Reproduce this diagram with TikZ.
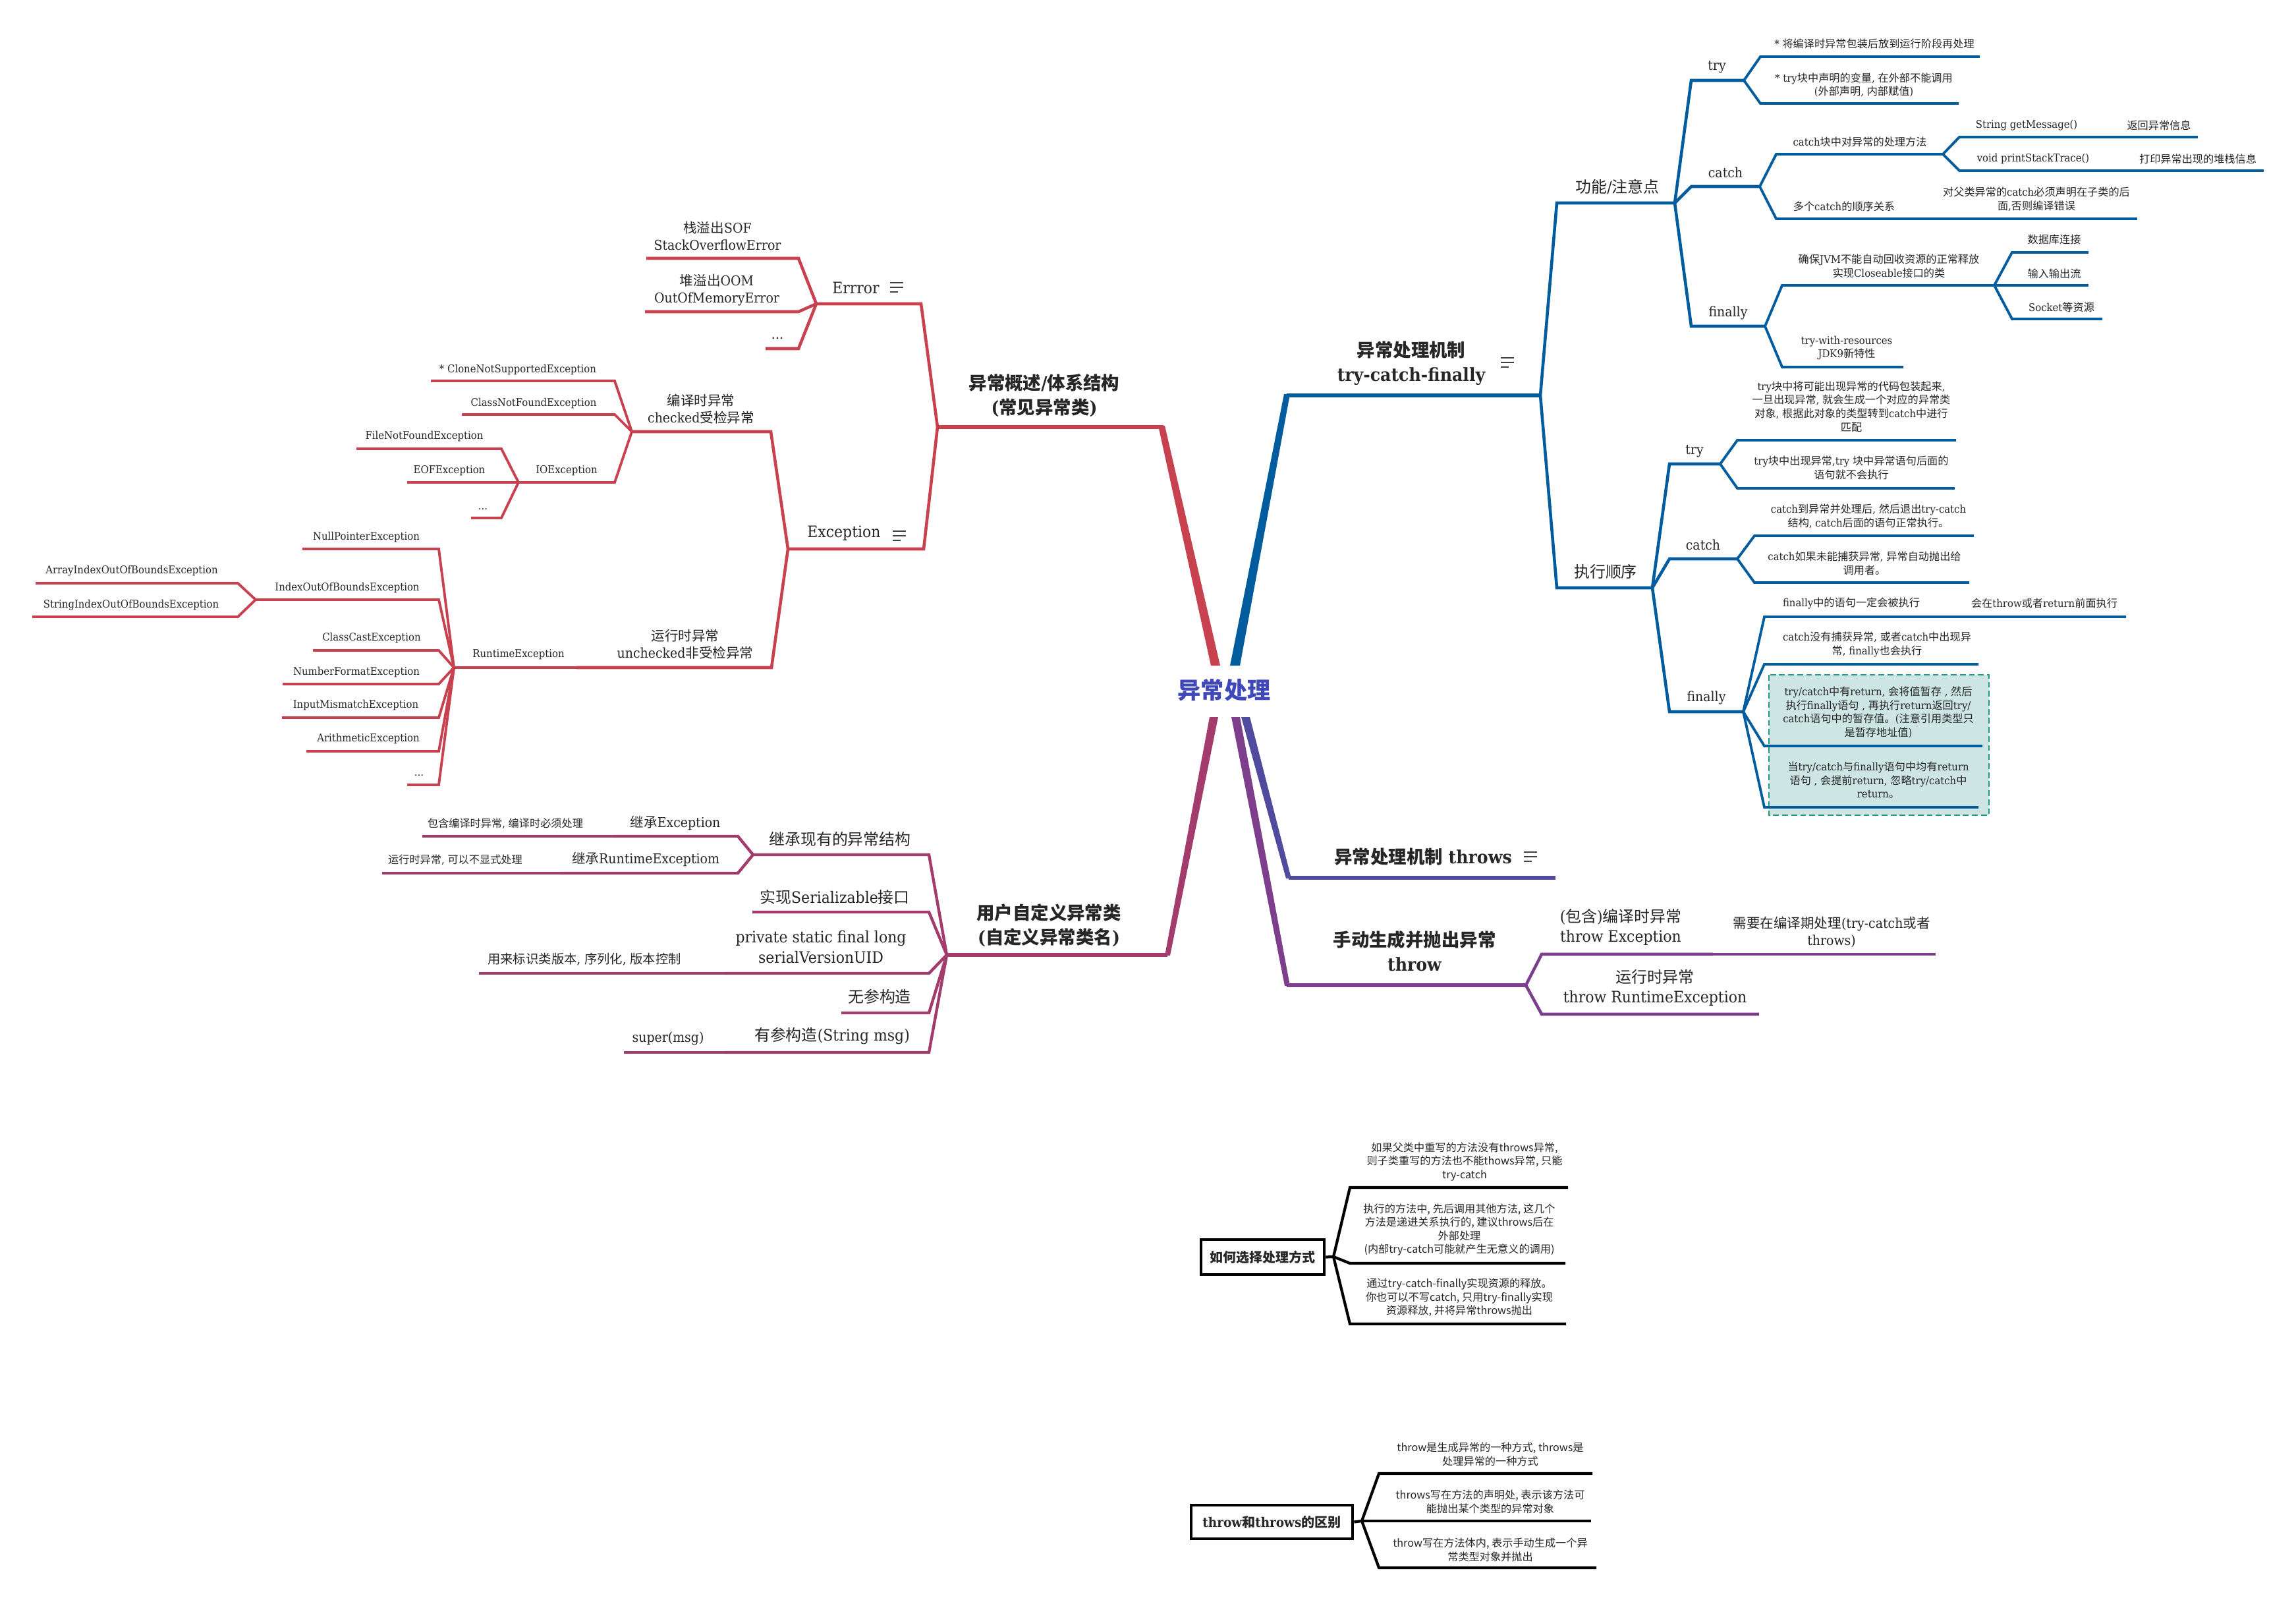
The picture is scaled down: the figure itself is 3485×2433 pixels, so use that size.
\documentclass[tikz,border=0pt]{standalone}
\usepackage{fontspec}
\setmainfont{DejaVu Serif}[FakeStretch=0.92]
\newfontfamily\cjkfont{Noto Sans CJK SC}
\XeTeXinterchartokenstate=1
\newcount\cjkcc
\cjkcc="0021
\loop\XeTeXcharclass\cjkcc=0 \advance\cjkcc by 1 \ifnum\cjkcc<"2E80 \repeat
\cjkcc="2E80
\loop\XeTeXcharclass\cjkcc=7 \advance\cjkcc by 1 \ifnum\cjkcc<"A000 \repeat
\cjkcc="FF00
\loop\XeTeXcharclass\cjkcc=7 \advance\cjkcc by 1 \ifnum\cjkcc<"FFF0 \repeat
\XeTeXinterchartoks 0 7 = {\begingroup\cjkfont}
\XeTeXinterchartoks 4095 7 = {\begingroup\cjkfont}
\XeTeXinterchartoks 7 0 = {\endgroup}
\XeTeXinterchartoks 7 4095 = {\endgroup}
\definecolor{cR}{HTML}{C8414F}
\definecolor{cB}{HTML}{005C9C}
\definecolor{cM}{HTML}{A33C6C}
\definecolor{cP}{HTML}{7D3E8C}
\definecolor{cI}{HTML}{504B9F}
\definecolor{cC}{HTML}{3F48B8}
\definecolor{cTeal}{HTML}{CDE6E3}
\definecolor{cTealB}{HTML}{1E9A88}
\newcommand\lnk[6]{\coordinate (#3-a) at (#4,#6);\coordinate (#3-b) at (#5,#6);\draw[#1] (#2) -- (#3-a) -- (#3-b);}
\newcommand\ico[2]{\draw[black!75,line width=0.5pt] (#1,#2-7) -- ++(20,0) (#1,#2) -- ++(20,0) (#1,#2+7) -- ++(12,0);}
\tikzset{
 tC/.style={font=\fontsize{10}{12}\selectfont\bfseries, text=cC},
 tT/.style={font=\fontsize{7.8}{10.5}\selectfont\bfseries},
 t1/.style={font=\fontsize{6.8}{8.6}\selectfont},
 t2/.style={font=\fontsize{5.85}{7.4}\selectfont},
 t25/.style={font=\fontsize{5.5}{6.6}\selectfont},
 t3/.style={font=\fontsize{4.6}{5.85}\selectfont},
 tB/.style={font=\fontsize{5.7}{7}\selectfont\bfseries, draw=black, line width=1.3pt},
 tBx/.style={font=\fontsize{4.6}{5.85}\selectfont\cjkfont},
 lR1/.style={draw=cR,line width=1.3pt}, lR2/.style={draw=cR,line width=1.1pt},
 lB1/.style={draw=cB,line width=1.3pt}, lB2/.style={draw=cB,line width=1.1pt},
 lM1/.style={draw=cM,line width=1.25pt}, lP1/.style={draw=cP,line width=1.3pt},
 lK/.style={draw=black,line width=1.2pt}
}
\begin{document}
\begin{tikzpicture}[x=0.01cm,y=-0.01cm, every node/.style={inner sep=0pt,align=center,text=black!85}]
\useasboundingbox (0,0) rectangle (3485,2433);
\fill[white] (0,0) rectangle (3485,2433);
% teal box
\draw[cTealB, fill=cTeal, line width=0.6pt, dash pattern=on 2.5pt off 1.4pt] (2685,1024) rectangle (3019,1237);
% root
\node[tC] (root) at (1858,1047) {异常处理};
% main connectors
\fill[cR] (1838,1010) -- (1852,1010) -- (1768,646) -- (1758,646) -- cycle;
\fill[cB] (1867,1010) -- (1882,1010) -- (1958,598) -- (1949,598) -- cycle;
\fill[cM] (1836,1088) -- (1849,1088) -- (1776,1450) -- (1768,1450) -- cycle;
\fill[cP] (1869,1088) -- (1882,1088) -- (1958,1496) -- (1950,1496) -- cycle;
\fill[cI] (1884,1088) -- (1897,1088) -- (1960,1333) -- (1952,1333) -- cycle;
% ===== RED =====
\coordinate (P) at (1423,648);
\coordinate (Pr) at (1766,648);
\draw[cR,line width=1.5pt] (Pr) -- (P);
\lnk{lR1}{P}{err}{1398}{1239}{461}
\lnk{lR1}{err-b}{sof}{1212}{981}{392}
\lnk{lR1}{err-b}{oom}{1212}{979}{473}
\lnk{lR1}{err-b}{edots}{1212}{1162}{529}
\lnk{lR1}{P}{exc}{1402}{1196}{833}
\lnk{lR1}{exc-b}{chk}{1170}{959}{655}
\lnk{lR2}{chk-b}{clone}{933}{654}{578}
\lnk{lR2}{chk-b}{cnf}{933}{701}{629}
\lnk{lR2}{chk-b}{ioe}{933}{787}{732}
\lnk{lR2}{ioe-b}{fnf}{761}{541}{681}
\lnk{lR2}{ioe-b}{eof}{761}{618}{732}
\lnk{lR2}{ioe-b}{iodots}{761}{715}{786}
\lnk{lR1}{exc-b}{rt}{1171}{875}{1013}
\lnk{lR1}{rt-b}{rte}{875}{689}{1013}
\lnk{lR2}{rte-b}{npe}{666}{459}{833}
\lnk{lR2}{rte-b}{ioobe}{666}{388}{910}
\lnk{lR2}{ioobe-b}{aioobe}{361}{54}{885}
\lnk{lR2}{ioobe-b}{sioobe}{361}{49}{936}
\lnk{lR2}{rte-b}{cce}{666}{475}{987}
\lnk{lR2}{rte-b}{nfe}{666}{429}{1038}
\lnk{lR2}{rte-b}{ime}{666}{428}{1089}
\lnk{lR2}{rte-b}{ae}{666}{465}{1140}
\lnk{lR2}{rte-b}{rdots}{666}{618}{1191}
\node[tT] (redT) at (1585,600) {异常概述/体系结构\\(常见异常类)};
\node[t1] (errT) at (1299,437) {Errror};
\ico{1351}{436}
\node[t2] (sofT) at (1089,358) {栈溢出SOF\\StackOverflowError};
\node[t2] (oomT) at (1088,440) {堆溢出OOM\\OutOfMemoryError};
\node[t2] (edT) at (1180,513) {...};
\node[t1] (excT) at (1281,809) {Exception};
\ico{1355}{813}
\node[t2] (chkT) at (1064,621) {编译时异常\\checked受检异常};
\node[t3] (cloneT) at (786,561) {* CloneNotSupportedException};
\node[t3] (cnfT) at (810,612) {ClassNotFoundException};
\node[t3] (ioeT) at (860,714) {IOException};
\node[t3] (fnfT) at (644,662) {FileNotFoundException};
\node[t3] (eofT) at (682,714) {EOFException};
\node[t3] (iodT) at (733,773) {...};
\node[t2] (rtT) at (1040,978) {运行时异常\\unchecked非受检异常};
\node[t3] (rteT) at (787,993) {RuntimeException};
\node[t3] (npeT) at (556,815) {NullPointerException};
\node[t3] (ioobeT) at (527,892) {IndexOutOfBoundsException};
\node[t3] (aioobeT) at (200,866) {ArrayIndexOutOfBoundsException};
\node[t3] (sioobeT) at (199,918) {StringIndexOutOfBoundsException};
\node[t3] (cceT) at (564,968) {ClassCastException};
\node[t3] (nfeT) at (541,1020) {NumberFormatException};
\node[t3] (imeT) at (540,1070) {InputMismatchException};
\node[t3] (aeT) at (559,1121) {ArithmeticException};
\node[t3] (rdT) at (636,1177) {...};
% ===== BLUE =====
\coordinate (Q) at (2338,600);
\coordinate (Ql) at (1953,600);
\draw[cB,line width=1.5pt] (Ql) -- (Q);
\lnk{lB1}{Q}{gn}{2363}{2542}{308}
\lnk{lB1}{gn-b}{try1}{2567}{2647}{122}
\lnk{lB2}{try1-b}{t1a}{2672}{3005}{86}
\lnk{lB2}{try1-b}{t1b}{2672}{2973}{157}
\lnk{lB1}{gn-b}{cat1}{2567}{2671}{283}
\lnk{lB2}{cat1-b}{c1a}{2696}{2949}{234}
\lnk{lB2}{c1a-b}{gm}{2974}{3190}{208}
\lnk{lB2}{gm-b}{gmr}{3190}{3336}{208}
\lnk{lB2}{c1a-b}{pst}{2974}{3230}{259}
\lnk{lB2}{pst-b}{pstr}{3230}{3436}{259}
\lnk{lB2}{cat1-b}{c1b}{2696}{2920}{332}
\lnk{lB2}{c1b-b}{c1br}{2920}{3244}{332}
\lnk{lB1}{gn-b}{fin1}{2567}{2679}{495}
\lnk{lB2}{fin1-b}{f1a}{2705}{3027}{433}
\lnk{lB2}{f1a-b}{db}{3054}{3170}{383}
\lnk{lB2}{f1a-b}{ios}{3054}{3170}{433}
\lnk{lB2}{f1a-b}{sock}{3054}{3191}{484}
\lnk{lB2}{fin1-b}{f1b}{2705}{2889}{557}
\lnk{lB1}{Q}{zx}{2363}{2508}{892}
\lnk{lB1}{zx-b}{try2}{2534}{2611}{704}
\lnk{lB2}{try2-b}{t2a}{2637}{2969}{668}
\lnk{lB2}{try2-b}{t2b}{2637}{2967}{741}
\lnk{lB1}{zx-b}{cat2}{2534}{2637}{848}
\lnk{lB2}{cat2-b}{c2a}{2663}{2996}{813}
\lnk{lB2}{cat2-b}{c2b}{2663}{2989}{884}
\lnk{lB1}{zx-b}{fin2}{2534}{2646}{1080}
\lnk{lB2}{fin2-b}{f2a}{2678}{2960}{936}
\lnk{lB2}{f2a-b}{f2ar}{2960}{3227}{936}
\lnk{lB2}{fin2-b}{f2b}{2678}{3003}{1008}
\lnk{lB2}{fin2-b}{f2c}{2678}{3009}{1132}
\lnk{lB2}{fin2-b}{f2d}{2678}{3003}{1225}
\node[tT] (blueT) at (2142,551) {异常处理机制\\try-catch-finally};
\ico{2278}{550}
\node[t1] (gnT) at (2455,283) {功能/注意点};
\node[t2] (try1T) at (2606,102) {try};
\node[t3] (t1aT) at (2845,66) {* 将编译时异常包装后放到运行阶段再处理};
\node[t3] (t1bT) at (2829,129) {* try块中声明的变量, 在外部不能调用\\(外部声明, 内部赋值)};
\node[t2] (cat1T) at (2619,262) {catch};
\node[t3] (c1aT) at (2823,215) {catch块中对异常的处理方法};
\node[t3] (gmT) at (3076,190) {String getMessage()};
\node[t3] (gmrT) at (3277,190) {返回异常信息};
\node[t3] (pstT) at (3086,241) {void printStackTrace()};
\node[t3] (pstrT) at (3336,241) {打印异常出现的堆栈信息};
\node[t3] (c1bT) at (2799,313) {多个catch的顺序关系};
\node[t3] (c1brT) at (3091,302) {对父类异常的catch必须声明在子类的后\\面,否则编译错误};
\node[t2] (fin1T) at (2623,475) {finally};
\node[t3] (f1aT) at (2867,404) {确保JVM不能自动回收资源的正常释放\\实现Closeable接口的类};
\node[t3] (dbT) at (3118,363) {数据库连接};
\node[t3] (iosT) at (3118,415) {输入输出流};
\node[t3] (sockT) at (3129,466) {Socket等资源};
\node[t3] (f1bT) at (2803,528) {try-with-resources\\JDK9新特性};
\node[t1] (zxT) at (2437,867) {执行顺序};
\node[t2] (try2T) at (2572,685) {try};
\node[t3] (t2aT) at (2810,617) {try块中将可能出现异常的代码包装起来,\\一旦出现异常, 就会生成一个对应的异常类\\对象, 根据此对象的类型转到catch中进行\\匹配};
\node[t3] (t2bT) at (2810,710) {try块中出现异常,try 块中异常语句后面的\\语句就不会执行};
\node[t2] (cat2T) at (2585,827) {catch};
\node[t3] (c2aT) at (2836,783) {catch到异常并处理后, 然后退出try-catch\\结构, catch后面的语句正常执行。};
\node[t3] (c2bT) at (2830,855) {catch如果未能捕获异常, 异常自动抛出给\\调用者。};
\node[t2] (fin2T) at (2590,1059) {finally};
\node[t3] (f2aT) at (2810,915) {finally中的语句一定会被执行};
\node[t3] (f2arT) at (3103,915) {会在throw或者return前面执行};
\node[t3] (f2bT) at (2849,978) {catch没有捕获异常, 或者catch中出现异\\常, finally也会执行};
\node[t3] (f2cT) at (2851,1081) {try/catch中有return, 会将值暂存 , 然后\\执行finally语句 , 再执行return返回try/\\catch语句中的暂存值。(注意引用类型只\\是暂存地址值)};
\node[t3] (f2dT) at (2851,1184) {当try/catch与finally语句中均有return\\语句 , 会提前return, 忽略try/catch中\\return。};
% ===== INDIGO =====
\coordinate (Ia) at (1956,1332);
\coordinate (Ib) at (2361,1332);
\draw[cI,line width=1.5pt] (Ia) -- (Ib);
\node[tT] (thsT) at (2160,1300) {异常处理机制 throws};
\ico{2313}{1300}
% ===== PURPLE =====
\coordinate (S) at (2316,1495);
\coordinate (Sl) at (1953,1495);
\draw[cP,line width=1.5pt] (Sl) -- (S);
\lnk{lP1}{S}{te}{2340}{2600}{1448}
\lnk{lP1}{te-b}{ter}{2600}{2938}{1448}
\lnk{lP1}{S}{tr}{2340}{2670}{1539}
\node[tT] (thT) at (2147,1443) {手动生成并抛出异常\\throw};
\node[t1] (teT) at (2460,1407) {(包含)编译时异常\\throw Exception};
\node[t2] (terT) at (2780,1414) {需要在编译期处理(try-catch或者\\throws)};
\node[t1] (trT) at (2512,1499) {运行时异常\\throw RuntimeException};
% ===== MAGENTA =====
\coordinate (R) at (1437,1449);
\coordinate (Rr) at (1772,1449);
\draw[cM,line width=1.5pt] (Rr) -- (R);
\lnk{lM1}{R}{inh}{1410}{1143}{1297}
\lnk{lM1}{inh-b}{ie}{1120}{930}{1269}
\lnk{lM1}{ie-b}{ier}{930}{641}{1269}
\lnk{lM1}{inh-b}{ire}{1120}{850}{1325}
\lnk{lM1}{ire-b}{irer}{850}{580}{1325}
\lnk{lM1}{R}{ser}{1410}{1142}{1384}
\lnk{lM1}{R}{uid}{1410}{1100}{1477}
\lnk{lM1}{uid-b}{uidr}{1100}{727}{1477}
\lnk{lM1}{R}{noarg}{1410}{1277}{1537}
\lnk{lM1}{R}{arg}{1410}{1100}{1597}
\lnk{lM1}{arg-b}{argr}{1100}{947}{1597}
\node[tT] (magT) at (1592,1404) {用户自定义异常类\\(自定义异常类名)};
\node[t1] (inhT) at (1275,1273) {继承现有的异常结构};
\node[t2] (ieT) at (1025,1249) {继承Exception};
\node[t3] (ierT) at (767,1250) {包含编译时异常, 编译时必须处理};
\node[t2] (ireT) at (980,1304) {继承RuntimeExceptiom};
\node[t3] (irerT) at (691,1305) {运行时异常, 可以不显式处理};
\node[t1] (serT) at (1267,1361) {实现Serializable接口};
\node[t1] (uidT) at (1246,1437) {private static final long\\serialVersionUID};
\node[t25] (uidrT) at (887,1456) {用来标识类版本, 序列化, 版本控制};
\node[t1] (noargT) at (1335,1512) {无参构造};
\node[t1] (argT) at (1263,1572) {有参构造(String msg)};
\node[t2] (argrT) at (1014,1576) {super(msg)};
% ===== BOX 1 =====
\node[tB, minimum width=1.87cm, minimum height=0.53cm] (hx) at (1916.5,1907.5) {如何选择处理方式};
\coordinate (J1) at (2024,1907);
\draw[lK] (hx.east) -- (J1);
\lnk{lK}{J1}{hx1}{2049}{2380}{1802}
\lnk{lK}{J1}{hx2}{2049}{2376}{1917}
\lnk{lK}{J1}{hx3}{2049}{2377}{2009}
\node[tBx] (hx1T) at (2223,1763) {如果父类中重写的方法没有throws异常,\\则子类重写的方法也不能thows异常, 只能\\try-catch};
\node[tBx] (hx2T) at (2215,1866) {执行的方法中, 先后调用其他方法, 这几个\\方法是递进关系执行的, 建议throws后在\\外部处理\\(内部try-catch可能就产生无意义的调用)};
\node[tBx] (hx3T) at (2215,1969) {通过try-catch-finally实现资源的释放。\\你也可以不写catch, 只用try-finally实现\\资源释放, 并将异常throws抛出};
% ===== BOX 2 =====
\node[tB, minimum width=2.45cm, minimum height=0.51cm] (td) at (1930.5,2309.5) {throw和throws的区别};
\coordinate (J2) at (2067,2308);
\draw[lK] (td.east) -- (J2);
\lnk{lK}{J2}{d1}{2093}{2417}{2236}
\lnk{lK}{J2}{d2}{2093}{2415}{2308}
\lnk{lK}{J2}{d3}{2093}{2423}{2379}
\node[tBx] (d1T) at (2262,2207) {throw是生成异常的一种方式, throws是\\处理异常的一种方式};
\node[tBx] (d2T) at (2262,2279) {throws写在方法的声明处, 表示该方法可\\能抛出某个类型的异常对象};
\node[tBx] (d3T) at (2262,2352) {throw写在方法体内, 表示手动生成一个异\\常类型对象并抛出};
\end{tikzpicture}
\end{document}
